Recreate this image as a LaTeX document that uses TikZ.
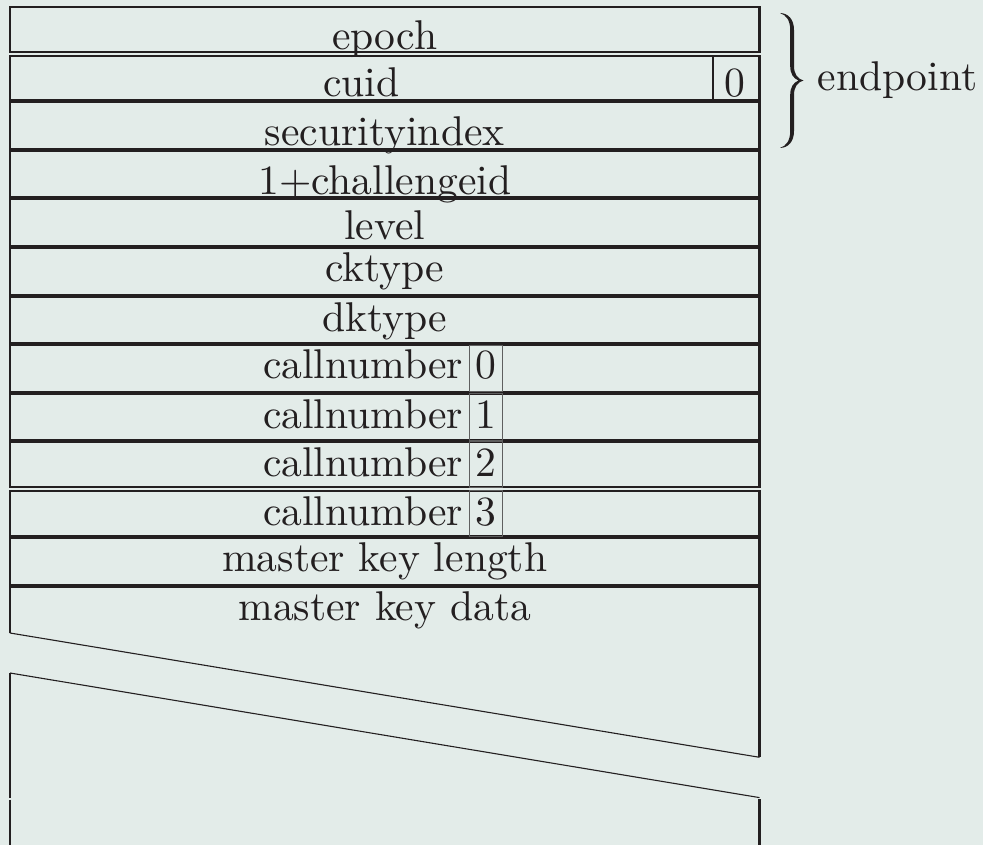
\documentclass[tikz,border=0pt]{standalone}
\usepackage{xcolor}
\definecolor{bg}{RGB}{227,236,233}
\definecolor{ink}{RGB}{35,31,32}
\definecolor{boxgray}{RGB}{95,95,95}
\begin{document}
\begin{tikzpicture}[x=1pt,y=-1pt,
  rowbox/.style={draw=ink, line width=2.2pt},
  lbl/.style={scale=4.16, inner sep=0pt, text=ink, anchor=base},
  thinbox/.style={draw=boxgray, line width=0.9pt},
  cutline/.style={draw=ink, line width=1.1pt},
  sideline/.style={draw=ink, line width=2.2pt},
  bracefill/.style={fill=ink, draw=none}]
\fill[bg] (0,0) rectangle (983,845);
\useasboundingbox (0,0) rectangle (983,845);
\begin{scope}
\clip (0,0) rectangle (983,845);
% rows
\draw[rowbox] (10,7) rectangle (759.5,52);
\draw[rowbox] (10,56) rectangle (759.5,100.3);
\draw[rowbox] (10,102.1) rectangle (759.5,148.8);
\draw[rowbox] (10,150.6) rectangle (759.5,197.3);
\draw[rowbox] (10,199.1) rectangle (759.5,245.8);
\draw[rowbox] (10,247.6) rectangle (759.5,294.6);
\draw[rowbox] (10,296.4) rectangle (759.5,343.3);
\draw[rowbox] (10,345.1) rectangle (759.5,391.8);
\draw[rowbox] (10,393.6) rectangle (759.5,440.1);
\draw[rowbox] (10,441.9) rectangle (759.5,487.3);
\draw[rowbox] (10,490.7) rectangle (759.5,536.4);
\draw[rowbox] (10,538.2) rectangle (759.5,585.1);
% cuid sub-box
\draw[draw=ink, line width=1.6pt] (713,56) -- (713,100.3);
% callnumber boxes
\draw[thinbox] (469,345.1) rectangle (502,391.8);
\draw[thinbox] (469,393.6) rectangle (502,440.1);
\draw[thinbox] (469,441.9) rectangle (502,487.3);
\draw[thinbox] (469,490.7) rectangle (502,536.4);
% master key data area
\draw[sideline] (10,633) -- (10,586.9) -- (759.5,586.9) -- (759.5,757.3);
\draw[cutline] (10,633) -- (759.5,757.3);
\draw[cutline] (10,673) -- (759.5,797.6);
\draw[sideline] (10,673) -- (10,797.5);
\draw[sideline] (10,799.5) -- (10,850);
\draw[sideline] (759.5,799.3) -- (759.5,850);
\end{scope}
% brace
\fill[bracefill] (780,13)
  .. controls (788,13.3) and (794,19) .. (794,30) -- (794,66)
  .. controls (794,74) and (797.5,79) .. (803.5,80.5)
  .. controls (797.5,82) and (794,87) .. (794,95) -- (794,131)
  .. controls (794,142) and (788,147.7) .. (780,148)
  .. controls (786,146) and (790.2,141) .. (790.2,131) -- (790.2,95)
  .. controls (790.2,87) and (793.5,82.5) .. (798.5,80.5)
  .. controls (793.5,78.5) and (790.2,74) .. (790.2,66) -- (790.2,30)
  .. controls (790.2,20) and (786,15) .. (780,13) -- cycle;
% labels
\node[lbl] (epoch) at (384.75,49.5) {epoch};
\node[lbl] (cuid) at (361.5,96.5) {cuid};
\node[lbl] (cuid0) at (735,96.5) {0};
\node[lbl] (sec) at (384.75,146) {securityindex};
\node[lbl] (chal) at (384.75,194.5) {1+challengeid};
\node[lbl] (level) at (384.75,239.5) {level};
\node[lbl] (ckt) at (384.75,281.5) {cktype};
\node[lbl] (dkt) at (384.75,331.5) {dktype};
\node[lbl, anchor=base east] (cn0) at (464,378.5) {callnumber};
\node[lbl] (cn0d) at (485.5,378.5) {0};
\node[lbl, anchor=base east] (cn1) at (464,428) {callnumber};
\node[lbl] (cn1d) at (485.5,428) {1};
\node[lbl, anchor=base east] (cn2) at (464,476.5) {callnumber};
\node[lbl] (cn2d) at (485.5,476.5) {2};
\node[lbl, anchor=base east] (cn3) at (464,525) {callnumber};
\node[lbl] (cn3d) at (485.5,525) {3};
\node[lbl] (mkl) at (384.75,571.5) {master key length};
\node[lbl] (mkd) at (384.75,620) {master key data};
\node[lbl, anchor=base west] (ep) at (817,91) {endpoint};
\end{tikzpicture}
\end{document}
